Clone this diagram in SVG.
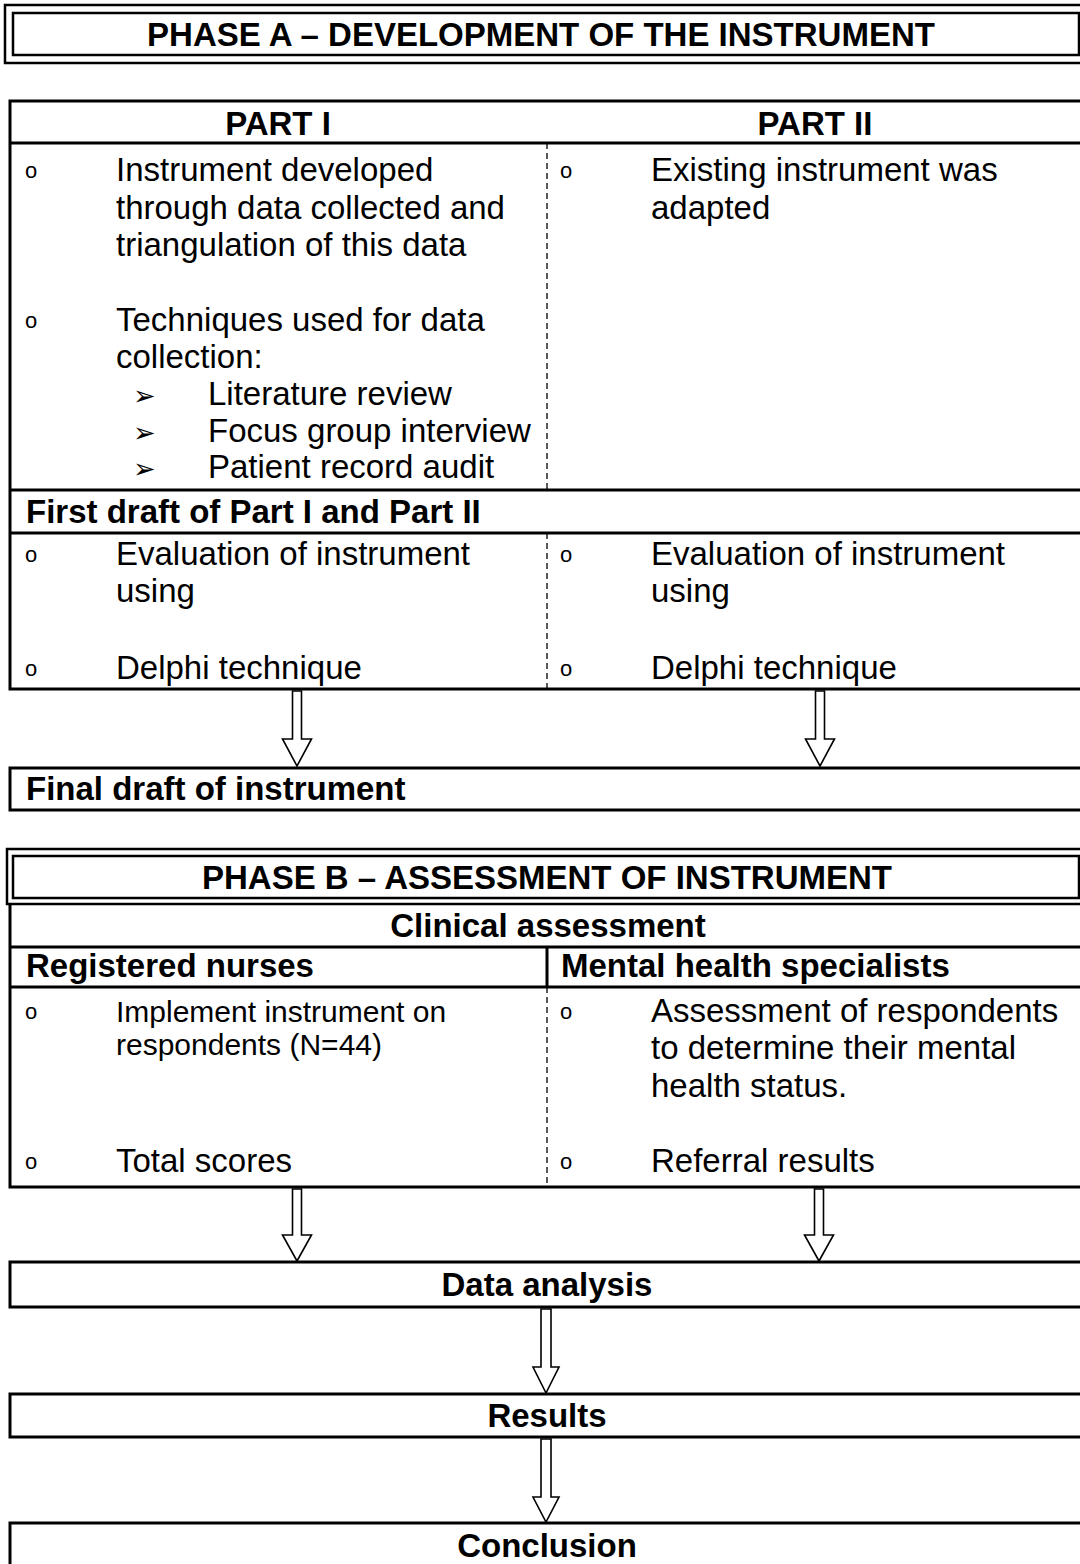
<svg xmlns="http://www.w3.org/2000/svg" width="1080" height="1564" viewBox="0 0 1080 1564">
<style>
.bg{fill:#fff}
.box{fill:none;stroke:#000;stroke-width:3}
.dbl{fill:none;stroke:#000;stroke-width:2.5}
.ln{fill:none;stroke:#000;stroke-width:3}
.dash{fill:none;stroke:#000;stroke-width:1.3;stroke-dasharray:6 4}
.t{font-family:"Liberation Sans",Arial,sans-serif;font-size:33px;fill:#000}
.s{font-size:30px}
.b{font-weight:bold}
.c{text-anchor:middle}
.o{font-family:"Liberation Sans",Arial,sans-serif;font-size:22px;fill:#000}
.ar{font-family:"DejaVu Sans",sans-serif;font-size:27px;fill:#000}
.arrow{fill:#fff;stroke:#000;stroke-width:1.6;stroke-linejoin:miter}
</style>
<rect class="bg" x="0" y="0" width="1080" height="1564"/>

<g id="phase-a">
<rect class="dbl" x="5" y="5" width="1090" height="58"/>
<rect class="dbl" x="13" y="13" width="1066" height="42"/>
<text class="t b c" x="541" y="46">PHASE A – DEVELOPMENT OF THE INSTRUMENT</text>
</g>

<g id="part-table">
<rect class="box" x="10" y="101" width="1090" height="588"/>
<path class="ln" d="M10 143H1090M10 490H1090M10 533H1090"/>
<path class="dash" d="M547 143V490M547 533V689"/>
<text class="t b c" x="278" y="135">PART I</text>
<text class="t b c" x="815" y="135">PART II</text>
<text class="o" x="25" y="178">o</text>
<text class="t" x="116" y="181">Instrument developed</text>
<text class="t" x="116" y="218.5">through data collected and</text>
<text class="t" x="116" y="256">triangulation of this data</text>
<text class="o" x="25" y="328">o</text>
<text class="t" x="116" y="331">Techniques used for data</text>
<text class="t" x="116" y="368">collection:</text>
<text class="ar" x="133" y="405">➢</text>
<text class="t" x="208" y="405">Literature review</text>
<text class="ar" x="133" y="442">➢</text>
<text class="t" x="208" y="442">Focus group interview</text>
<text class="ar" x="133" y="478">➢</text>
<text class="t" x="208" y="478">Patient record audit</text>
<text class="o" x="560" y="178">o</text>
<text class="t" x="651" y="181">Existing instrument was</text>
<text class="t" x="651" y="218.5">adapted</text>
<text class="t b" x="26" y="523">First draft of Part I and Part II</text>
<text class="o" x="25" y="562">o</text>
<text class="t" x="116" y="565">Evaluation of instrument</text>
<text class="t" x="116" y="602">using</text>
<text class="o" x="25" y="676">o</text>
<text class="t" x="116" y="679">Delphi technique</text>
<text class="o" x="560" y="562">o</text>
<text class="t" x="651" y="565">Evaluation of instrument</text>
<text class="t" x="651" y="602">using</text>
<text class="o" x="560" y="676">o</text>
<text class="t" x="651" y="679">Delphi technique</text>
</g>

<g id="final-draft">
<rect class="box" x="10" y="768" width="1090" height="42"/>
<text class="t b" x="26" y="800">Final draft of instrument</text>
</g>

<g id="phase-b">
<rect class="dbl" x="7" y="849" width="1090" height="55"/>
<rect class="dbl" x="13" y="856" width="1066" height="42"/>
<text class="t b c" x="547" y="889">PHASE B – ASSESSMENT OF INSTRUMENT</text>
</g>

<g id="clinical-table">
<path class="ln" d="M10 904V1187H1090M10 947H1090M10 987H1090M547 947V987"/>
<path class="dash" d="M547 987V1187"/>
<text class="t b c" x="548" y="937">Clinical assessment</text>
<text class="t b" x="26" y="977">Registered nurses</text>
<text class="t b" x="561" y="977">Mental health specialists</text>
<text class="o" x="25" y="1019">o</text>
<text class="t s" x="116" y="1022">Implement instrument on</text>
<text class="t s" x="116" y="1055">respondents (N=44)</text>
<text class="o" x="25" y="1169">o</text>
<text class="t" x="116" y="1172">Total scores</text>
<text class="o" x="560" y="1019">o</text>
<text class="t" x="651" y="1022">Assessment of respondents</text>
<text class="t" x="651" y="1059">to determine their mental</text>
<text class="t" x="651" y="1097">health status.</text>
<text class="o" x="560" y="1169">o</text>
<text class="t" x="651" y="1172">Referral results</text>
</g>

<g id="data-analysis">
<rect class="box" x="10" y="1262" width="1090" height="45"/>
<text class="t b c" x="547" y="1296">Data analysis</text>
</g>

<g id="results">
<rect class="box" x="10" y="1394" width="1090" height="43"/>
<text class="t b c" x="547" y="1427">Results</text>
</g>

<g id="conclusion">
<rect class="box" x="10" y="1523" width="1090" height="60"/>
<text class="t b c" x="547" y="1557">Conclusion</text>
</g>

<g id="connectors">
<polygon class="arrow" points="292.5,691 301.5,691 301.5,739 311.5,739 297,766 282.5,739 292.5,739"/>
<polygon class="arrow" points="815.5,691 824.5,691 824.5,739 834.5,739 820,766 805.5,739 815.5,739"/>
<polygon class="arrow" points="292.5,1189 301.5,1189 301.5,1235 311.5,1235 297,1261 282.5,1235 292.5,1235"/>
<polygon class="arrow" points="814.5,1189 823.5,1189 823.5,1235 833.5,1235 819,1261 804.5,1235 814.5,1235"/>
<polygon class="arrow" points="541,1309 551,1309 551,1367 559,1367 546,1393 533,1367 541,1367"/>
<polygon class="arrow" points="541,1439 551,1439 551,1497 559,1497 546,1522 533,1497 541,1497"/>
</g>
</svg>
